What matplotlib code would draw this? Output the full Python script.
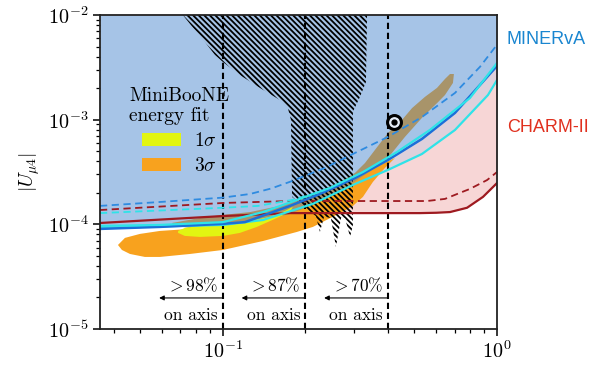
import numpy as np
import matplotlib
matplotlib.use("Agg")
import matplotlib.pyplot as plt
from matplotlib.patches import Patch

plt.rcParams['mathtext.fontset'] = 'cm'
plt.rcParams['font.family'] = ['cmr10', 'DejaVu Serif']
plt.rcParams['axes.formatter.use_mathtext'] = True
plt.rcParams['hatch.linewidth'] = 1.3

# ---- bounds (heavy neutrino mass m4 [GeV] vs |U_mu4|) ----
minerva_dash_m = [0.0356, 0.06, 0.1, 0.1256, 0.15, 0.1757, 0.2356, 0.3033, 0.40, 0.5322, 0.7025, 0.867, 1.0]
minerva_dash_u = [1.50e-4, 1.64e-4, 1.80e-4, 1.95e-4, 2.2e-4, 2.55e-4, 3.46e-4, 4.81e-4, 6.84e-4, 1.06e-3, 1.80e-3, 3.2e-3, 5.2e-3]

minerva_solid_m = [0.0356, 0.0589, 0.1, 0.1203, 0.1423, 0.1757, 0.2259, 0.3033, 0.40, 0.5322, 0.7025, 1.0]
minerva_solid_u = [9.04e-5, 9.45e-5, 1.01e-4, 1.05e-4, 1.23e-4, 1.50e-4, 1.95e-4, 2.77e-4, 4.12e-4, 6.54e-4, 1.16e-3, 3.26e-3]

cyan_a_m = [0.0356, 0.0589, 0.1, 0.14, 0.1862, 0.2458, 0.3243, 0.4318, 0.5689, 0.7966, 1.0]
cyan_a_u = [9.66e-5, 9.87e-5, 1.05e-4, 1.31e-4, 1.71e-4, 2.23e-4, 3.16e-4, 4.91e-4, 7.97e-4, 1.61e-3, 3.48e-3]

cyan_b_m = [0.0356, 0.1, 0.14, 0.213, 0.3033, 0.40, 0.5322, 0.7025, 0.9269, 1.0]
cyan_b_u = [9.24e-5, 9.87e-5, 1.10e-4, 1.57e-4, 2.43e-4, 3.31e-4, 4.70e-4, 7.97e-4, 1.72e-3, 2.39e-3]

cyan_dash_m = [0.0356, 0.1, 0.1343, 0.1787, 0.2259, 0.2458]
cyan_dash_u = [1.28e-4, 1.44e-4, 1.50e-4, 1.71e-4, 2.04e-4, 2.23e-4]

charm_dash_m = [0.0356, 0.1, 0.1757, 0.30, 0.5555, 0.646, 0.7328, 0.7966, 0.9203, 1.0]
charm_dash_u = [1.37e-4, 1.60e-4, 1.67e-4, 1.67e-4, 1.67e-4, 1.75e-4, 2.0e-4, 2.18e-4, 2.65e-4, 3.16e-4]

charm_solid_m = [0.0356, 0.1, 0.1757, 0.5234, 0.6, 0.6738, 0.7776, 0.8892, 1.0]
charm_solid_u = [1.03e-4, 1.20e-4, 1.28e-4, 1.28e-4, 1.29e-4, 1.31e-4, 1.44e-4, 1.83e-4, 2.48e-4]

# ---- MiniBooNE energy-fit regions (closed contours) ----
brown_m = [0.0651, 0.0824, 0.1, 0.1256, 0.1614, 0.191, 0.2259, 0.2674, 0.3033, 0.3298, 0.3587, 0.40, 0.45,
           0.4898, 0.5457, 0.6039, 0.646, 0.6738, 0.6963, 0.6906, 0.646, 0.6092, 0.5322, 0.4613, 0.40,
           0.3587, 0.3162, 0.2674, 0.2078, 0.1614, 0.1256, 0.0975, 0.0758, 0.0668]
brown_u = [1.03e-4, 1.15e-4, 1.23e-4, 1.31e-4, 1.50e-4, 1.75e-4, 2.09e-4, 2.54e-4, 3.10e-4, 3.85e-4, 5.14e-4, 7.46e-4, 9.93e-4,
           1.29e-3, 1.65e-3, 2.01e-3, 2.45e-3, 2.73e-3, 2.73e-3, 2.24e-3, 1.72e-3, 1.47e-3, 1.04e-3, 6.84e-4, 4.31e-4,
           2.96e-4, 2.23e-4, 1.60e-4, 1.26e-4, 1.05e-4, 9.66e-5, 9.24e-5, 9.24e-5, 9.66e-5]

orange_m = [0.0414, 0.0428, 0.0458, 0.0519, 0.0589, 0.0758, 0.1, 0.14, 0.1862, 0.213, 0.2674, 0.2981, 0.3243,
            0.3525, 0.3902, 0.4246, 0.3742, 0.3162, 0.2674, 0.2078, 0.1757, 0.1365, 0.1, 0.0758, 0.0589,
            0.0498, 0.0439]
orange_u = [6.35e-5, 5.69e-5, 5.21e-5, 4.88e-5, 4.88e-5, 5.21e-5, 5.69e-5, 6.93e-5, 8.46e-5, 9.45e-5, 1.28e-4, 1.50e-4, 1.83e-4,
            2.54e-4, 3.46e-4, 4.31e-4, 3.69e-4, 2.77e-4, 2.04e-4, 1.50e-4, 1.26e-4, 1.05e-4, 9.66e-5, 9.04e-5, 8.65e-5,
            8.10e-5, 7.42e-5]

yellow_m = [0.0686, 0.0726, 0.0824, 0.1, 0.1256, 0.1485, 0.1683, 0.1799, 0.1757, 0.1574, 0.1330, 0.1153, 0.1,
            0.0824, 0.0726, 0.0686]
yellow_u = [8.65e-5, 9.24e-5, 9.66e-5, 1.01e-4, 1.08e-4, 1.18e-4, 1.34e-4, 1.47e-4, 1.31e-4, 1.15e-4, 9.45e-5, 8.28e-5, 7.75e-5,
            7.58e-5, 7.75e-5, 8.28e-5]

# ---- hatched excluded region ----
excl_m = [0.0714, 0.0790, 0.0860, 0.0935, 0.1, 0.1153, 0.1365, 0.1614, 0.1726, 0.1771, 0.1787, 0.199, 0.2183,
          0.2259, 0.2338, 0.2477, 0.2584, 0.2698, 0.2788, 0.2910, 0.2981, 0.2981, 0.2981, 0.3162, 0.3325, 0.3356]
excl_u = [1e-2, 7.19e-3, 5.52e-3, 4.15e-3, 3.56e-3, 2.67e-3, 2.01e-3, 1.54e-3, 1.29e-3, 9.93e-4, 1.83e-4, 1.44e-4, 1.20e-4,
          8.46e-5, 1.18e-4, 1.15e-4, 6.08e-5, 1.15e-4, 1.15e-4, 7.58e-5, 9.87e-5, 4.12e-4, 1.19e-3, 1.65e-3, 2.29e-3, 1e-2]

# ---- off-axis fractions ----
frac_m = [0.1, 0.2, 0.4]
frac_labels = [r'$>98\%$', r'$>87\%$', r'$>70\%$']

bench_m, bench_u = 0.42, 9.5e-4

m_lo, m_hi = 0.0356, 1.0
u_lo, u_hi = 1e-5, 1e-2

c_blue_fill = '#a6c4e7'
c_pink = '#f7d6d6'
c_minerva = '#2f8be0'
c_minerva_s = '#1c6fd8'
c_cyan = '#2fe3e8'
c_charm = '#9e1a20'
c_brown = '#a8946a'
c_orange = '#f8a21e'
c_yellow = '#e2f512'


def loginterp(xg, xs, ys):
    return 10 ** np.interp(np.log10(xg), np.log10(xs), np.log10(ys))


fig = plt.figure(figsize=(6.07, 3.65), dpi=100)
ax = fig.add_axes([100 / 607, 1 - 329 / 365, 397 / 607, 314 / 365])
ax.set_xscale('log')
ax.set_yscale('log')
ax.set_xlim(m_lo, m_hi)
ax.set_ylim(u_lo, u_hi)

xg = np.logspace(np.log10(m_lo), np.log10(m_hi), 500)
ax.fill_between(xg, loginterp(xg, charm_solid_m, charm_solid_u), u_hi, color=c_pink, lw=0, zorder=1)
ax.fill_between(xg, loginterp(xg, cyan_b_m, cyan_b_u), u_hi, color=c_blue_fill, alpha=0.3, lw=0, zorder=2)
ax.fill_between(xg, loginterp(xg, minerva_solid_m, minerva_solid_u), u_hi, color=c_blue_fill, lw=0, zorder=3)

ax.fill(brown_m, brown_u, color=c_brown, lw=0, zorder=4)
ax.fill(orange_m, orange_u, color=c_orange, lw=0, zorder=5)
ax.fill(yellow_m, yellow_u, color=c_yellow, lw=0, zorder=6)

ax.fill(excl_m, excl_u, facecolor='none', edgecolor='black', hatch='\\' * 6, lw=0, zorder=7)

for xm in frac_m:
    ax.axvline(xm, color='black', ls=(0, (3, 1.8)), lw=1.5, zorder=8)

ax.plot(minerva_dash_m, minerva_dash_u, color=c_minerva, ls=(0, (4, 2.5)), lw=1.3, zorder=9)
ax.plot(charm_dash_m, charm_dash_u, color=c_charm, ls=(0, (4, 2.5)), lw=1.3, zorder=9)
ax.plot(cyan_dash_m, cyan_dash_u, color=c_cyan, ls=(0, (4, 2.5)), lw=1.3, zorder=9)
ax.plot(charm_solid_m, charm_solid_u, color=c_charm, lw=1.6, zorder=9)
ax.plot(cyan_b_m, cyan_b_u, color=c_cyan, lw=1.6, zorder=9)
ax.plot(minerva_solid_m, minerva_solid_u, color=c_minerva_s, lw=1.8, zorder=10)
ax.plot(cyan_a_m, cyan_a_u, color=c_cyan, lw=1.6, zorder=10)

ax.plot([bench_m], [bench_u], 'o', ms=10, mfc='#e6edf7', mec='black', mew=2.2, zorder=11)
ax.plot([bench_m], [bench_u], 'o', ms=3.5, mfc='black', mec='black', zorder=12)

for xm, lab in zip(frac_m, frac_labels):
    ax.text(xm * 0.96, 2.64e-5, lab, ha='right', va='center', fontsize=12.5, zorder=12)
    ax.text(xm * 0.96, 1.36e-5, 'on axis', ha='right', va='center', fontsize=12.5, zorder=12)
    ax.annotate('', xy=(xm * 0.585, 1.98e-5), xytext=(xm * 0.995, 1.98e-5),
                arrowprops=dict(arrowstyle='-|>', lw=0.8, color='black', mutation_scale=7,
                                shrinkA=0, shrinkB=0), zorder=12)

handles = [Patch(facecolor=c_yellow, edgecolor='none'), Patch(facecolor=c_orange, edgecolor='none')]
leg = ax.legend(handles, [r'$1\sigma$', r'$3\sigma$'], title='MiniBooNE\nenergy fit',
                loc='upper left', bbox_to_anchor=(0.04, 0.815), frameon=False, fontsize=14,
                title_fontsize=14, handlelength=2.0, handleheight=0.65, labelspacing=0.35,
                handletextpad=0.7, borderpad=0.2)
leg.set_zorder(13)

ax.set_ylabel(r'$|U_{\mu 4}|$', fontsize=14, labelpad=4)

ax.tick_params(axis='both', which='major', direction='out', length=5, width=1.1, labelsize=14.5,
               top=False, right=False)
ax.tick_params(axis='both', which='minor', direction='out', length=3, width=0.9, top=False, right=False)
ax.xaxis.set_minor_formatter(matplotlib.ticker.NullFormatter())
for s in ax.spines.values():
    s.set_linewidth(1.3)
    s.set_color('#222222')
    s.set_zorder(14)

fig.text(507 / 607, 1 - 40 / 365, 'MINERvA', color='#1a86d0', fontsize=13,
         family='Liberation Sans', ha='left', va='center')
fig.text(507 / 607, 1 - 128 / 365, 'CHARM-II', color='#e0301e', fontsize=13,
         family='Liberation Sans', ha='left', va='center')

fig.savefig('out.png', dpi=100)
